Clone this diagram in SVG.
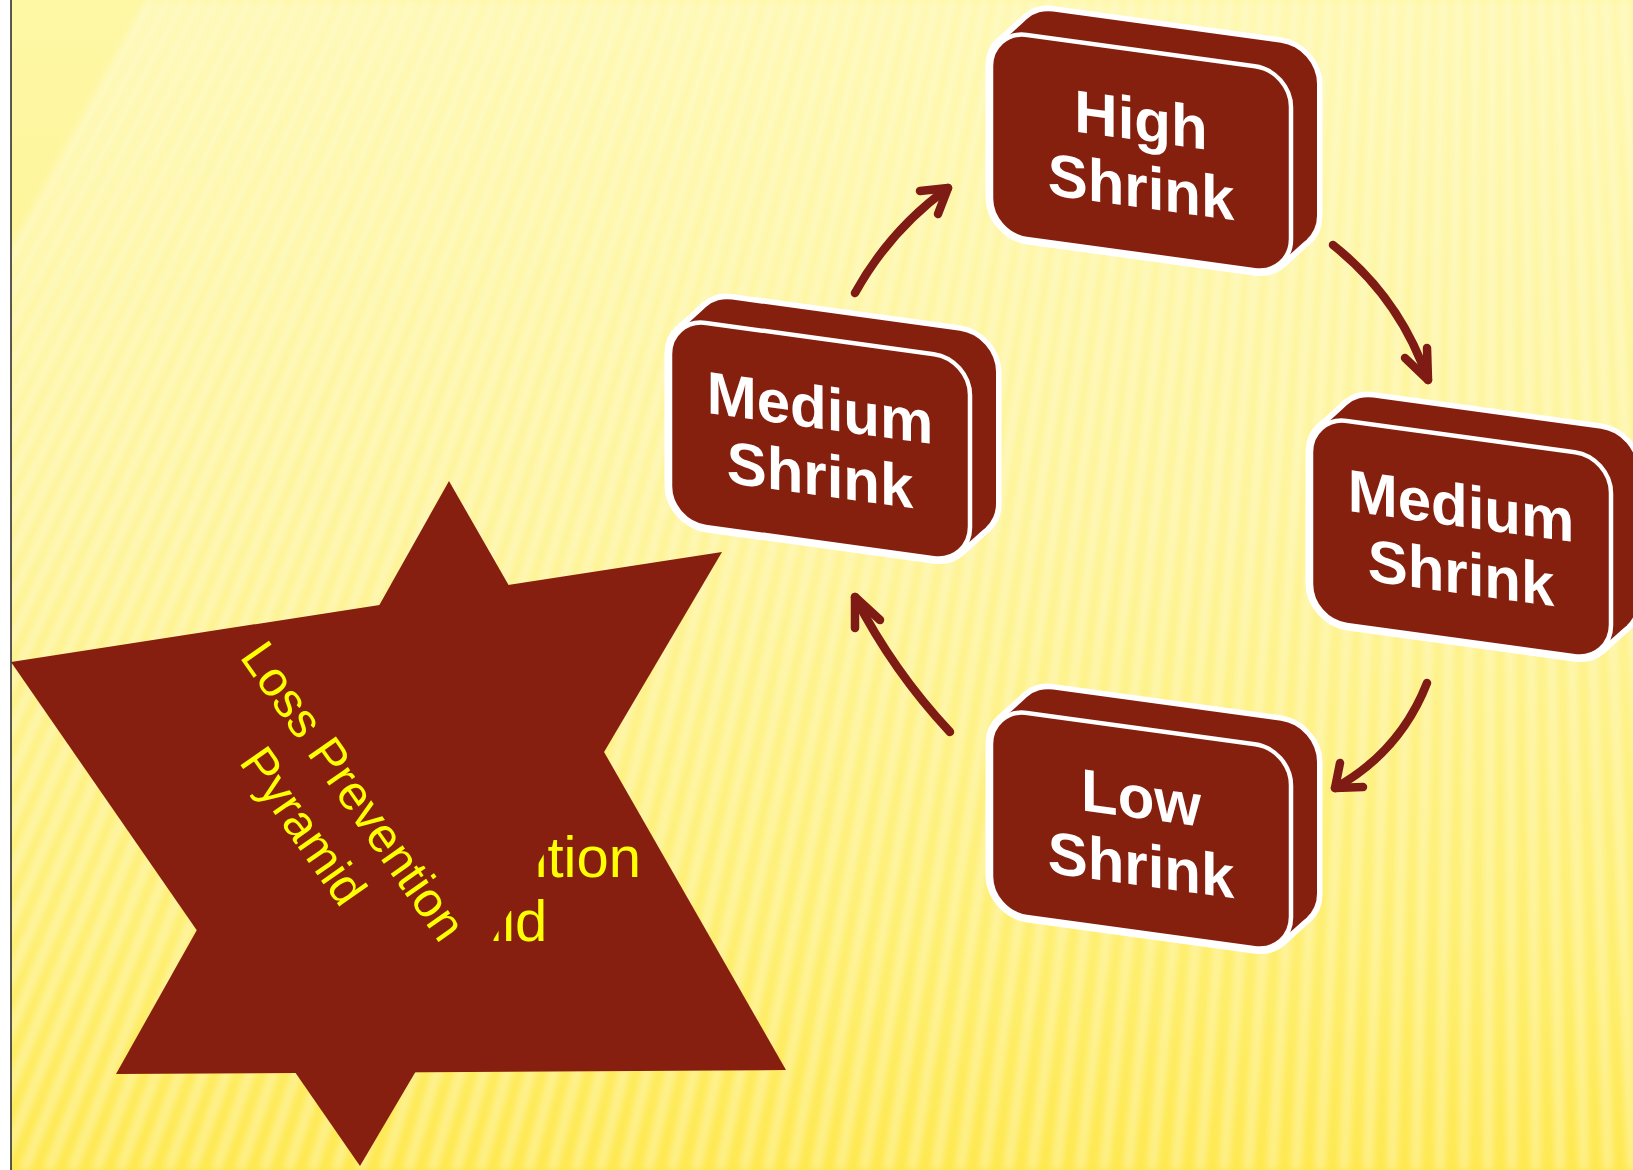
<svg xmlns="http://www.w3.org/2000/svg" xmlns:xlink="http://www.w3.org/1999/xlink" width="1633" height="1170" viewBox="0 0 1633 1170">
<style>
.sil-s use{fill:#fff;stroke:#fff;stroke-width:11;stroke-linejoin:round}
.sil-f use{fill:#85200F}
.face{fill:#85200F;stroke:#fff;stroke-width:4.5}
.lbl{font-family:"Liberation Sans",Arial,sans-serif;font-weight:bold;font-size:60px;fill:#fff;text-anchor:middle}
.arrow{fill:none;stroke:#7E1B14;stroke-width:8.5;stroke-linecap:round;stroke-linejoin:round}
.tri{fill:#861F10}
.ytxt{font-family:"Liberation Sans",Arial,sans-serif;fill:#FFFF00;text-anchor:middle}
</style>
<defs>
<linearGradient id="bg" x1="0" y1="0" x2="0" y2="1">
<stop offset="0" stop-color="#FEF7A4"/>
<stop offset="0.45" stop-color="#FEF392"/>
<stop offset="0.8" stop-color="#FEEE6C"/>
<stop offset="1" stop-color="#FEE84C"/>
</linearGradient>
<filter id="blur" x="-5%" y="-5%" width="110%" height="110%"><feGaussianBlur stdDeviation="3.5"/></filter>
<clipPath id="slide"><rect x="11" y="0" width="1622" height="1170"/></clipPath>
<rect id="ff" width="300" height="204" rx="36"/>
<path id="hull" d="M10.1,11.1 L36.1,-15.9 L315.9,165.9 L289.9,192.9 Z"/>
</defs>
<rect x="0" y="0" width="1633" height="1170" fill="#fff"/>
<g clip-path="url(#slide)">
<rect x="11" y="0" width="1622" height="1170" fill="url(#bg)"/>
<path filter="url(#blur)" stroke="#fff" stroke-opacity="0.34" stroke-width="11" fill="none" d="M-480 1170L152 0M-456 1170L168 0M-432 1170L184 0M-408 1170L201 0M-384 1170L217 0M-360 1170L233 0M-336 1170L250 0M-312 1170L266 0M-288 1170L282 0M-264 1170L299 0M-240 1170L315 0M-216 1170L331 0M-192 1170L348 0M-168 1170L364 0M-144 1170L380 0M-120 1170L397 0M-96 1170L413 0M-72 1170L429 0M-48 1170L446 0M-24 1170L462 0M0 1170L478 0M24 1170L495 0M48 1170L511 0M72 1170L527 0M96 1170L544 0M120 1170L560 0M144 1170L576 0M168 1170L593 0M192 1170L609 0M216 1170L625 0M240 1170L642 0M264 1170L658 0M288 1170L675 0M312 1170L691 0M336 1170L707 0M360 1170L724 0M384 1170L740 0M408 1170L756 0M432 1170L773 0M456 1170L789 0M480 1170L805 0M504 1170L822 0M528 1170L838 0M552 1170L854 0M576 1170L871 0M600 1170L887 0M624 1170L903 0M648 1170L920 0M672 1170L936 0M696 1170L952 0M720 1170L969 0M744 1170L985 0M768 1170L1002 0M792 1170L1018 0M816 1170L1034 0M840 1170L1051 0M864 1170L1067 0M888 1170L1083 0M912 1170L1100 0M936 1170L1116 0M960 1170L1132 0M984 1170L1149 0M1008 1170L1165 0M1032 1170L1181 0M1056 1170L1198 0M1080 1170L1214 0M1104 1170L1230 0M1128 1170L1247 0M1152 1170L1263 0M1176 1170L1279 0M1200 1170L1296 0M1224 1170L1312 0M1248 1170L1329 0M1272 1170L1345 0M1296 1170L1361 0M1320 1170L1378 0M1344 1170L1394 0M1368 1170L1410 0M1392 1170L1427 0M1416 1170L1443 0M1440 1170L1459 0M1464 1170L1476 0M1488 1170L1492 0M1512 1170L1508 0M1536 1170L1525 0M1560 1170L1541 0M1584 1170L1557 0M1608 1170L1574 0M1632 1170L1590 0M1656 1170L1606 0M1680 1170L1623 0M1704 1170L1639 0"/>

<g id="pyramid">
<polygon class="tri" points="449,481 786,1070 116,1074"/>
<text class="ytxt" font-size="58"><tspan x="433" y="877">Loss Prevention</tspan><tspan x="441" y="941">Pyramid</tspan></text>
</g>
<g id="pyramid-rotated">
<polygon class="tri" points="11,662 722,552 360,1166"/>
<text class="ytxt" font-size="49" transform="translate(329,808) rotate(55)"><tspan x="0" y="-13">Loss Prevention</tspan><tspan x="0" y="48">Pyramid</tspan></text>
</g>

<g id="connectors">
<path class="arrow" d="M855,293 Q890,230 948,188"/>
<polyline class="arrow" points="920,191 948,188 938,214"/>
<path class="arrow" d="M1333,245 Q1400,298 1428,380"/>
<polyline class="arrow" points="1405,358 1428,380 1427,348"/>
<path class="arrow" d="M1427,683 Q1400,752 1335,788"/>
<polyline class="arrow" points="1340,763 1335,788 1363,787"/>
<path class="arrow" d="M950,732 Q893,671 855,597"/>
<polyline class="arrow" points="855,628 855,597 880,620"/>
</g>

<g id="node-high" transform="translate(991,30) skewY(7.8)">
<g class="sil-s"><use xlink:href="#ff"/><use xlink:href="#ff" x="26" y="-27"/><use xlink:href="#hull"/></g>
<g class="sil-f"><use xlink:href="#ff"/><use xlink:href="#ff" x="26" y="-27"/><use xlink:href="#hull"/></g>
<use xlink:href="#ff" class="face"/>
<text class="lbl"><tspan x="150" y="90">High</tspan><tspan x="150" y="157">Shrink</tspan></text>
</g>

<g id="node-medium-left" transform="translate(670,318) skewY(7.8)">
<g class="sil-s"><use xlink:href="#ff"/><use xlink:href="#ff" x="26" y="-27"/><use xlink:href="#hull"/></g>
<g class="sil-f"><use xlink:href="#ff"/><use xlink:href="#ff" x="26" y="-27"/><use xlink:href="#hull"/></g>
<use xlink:href="#ff" class="face"/>
<text class="lbl"><tspan x="150" y="90">Medium</tspan><tspan x="150" y="157">Shrink</tspan></text>
</g>

<g id="node-medium-right" transform="translate(1311,416) skewY(7.8)">
<g class="sil-s"><use xlink:href="#ff"/><use xlink:href="#ff" x="26" y="-27"/><use xlink:href="#hull"/></g>
<g class="sil-f"><use xlink:href="#ff"/><use xlink:href="#ff" x="26" y="-27"/><use xlink:href="#hull"/></g>
<use xlink:href="#ff" class="face"/>
<text class="lbl"><tspan x="150" y="90">Medium</tspan><tspan x="150" y="157">Shrink</tspan></text>
</g>

<g id="node-low" transform="translate(991,708) skewY(7.8)">
<g class="sil-s"><use xlink:href="#ff"/><use xlink:href="#ff" x="26" y="-27"/><use xlink:href="#hull"/></g>
<g class="sil-f"><use xlink:href="#ff"/><use xlink:href="#ff" x="26" y="-27"/><use xlink:href="#hull"/></g>
<use xlink:href="#ff" class="face"/>
<text class="lbl"><tspan x="150" y="90">Low</tspan><tspan x="150" y="157">Shrink</tspan></text>
</g>
</g>
<line x1="11" y1="0" x2="11" y2="1170" stroke="#222" stroke-width="1.5"/>
</svg>
